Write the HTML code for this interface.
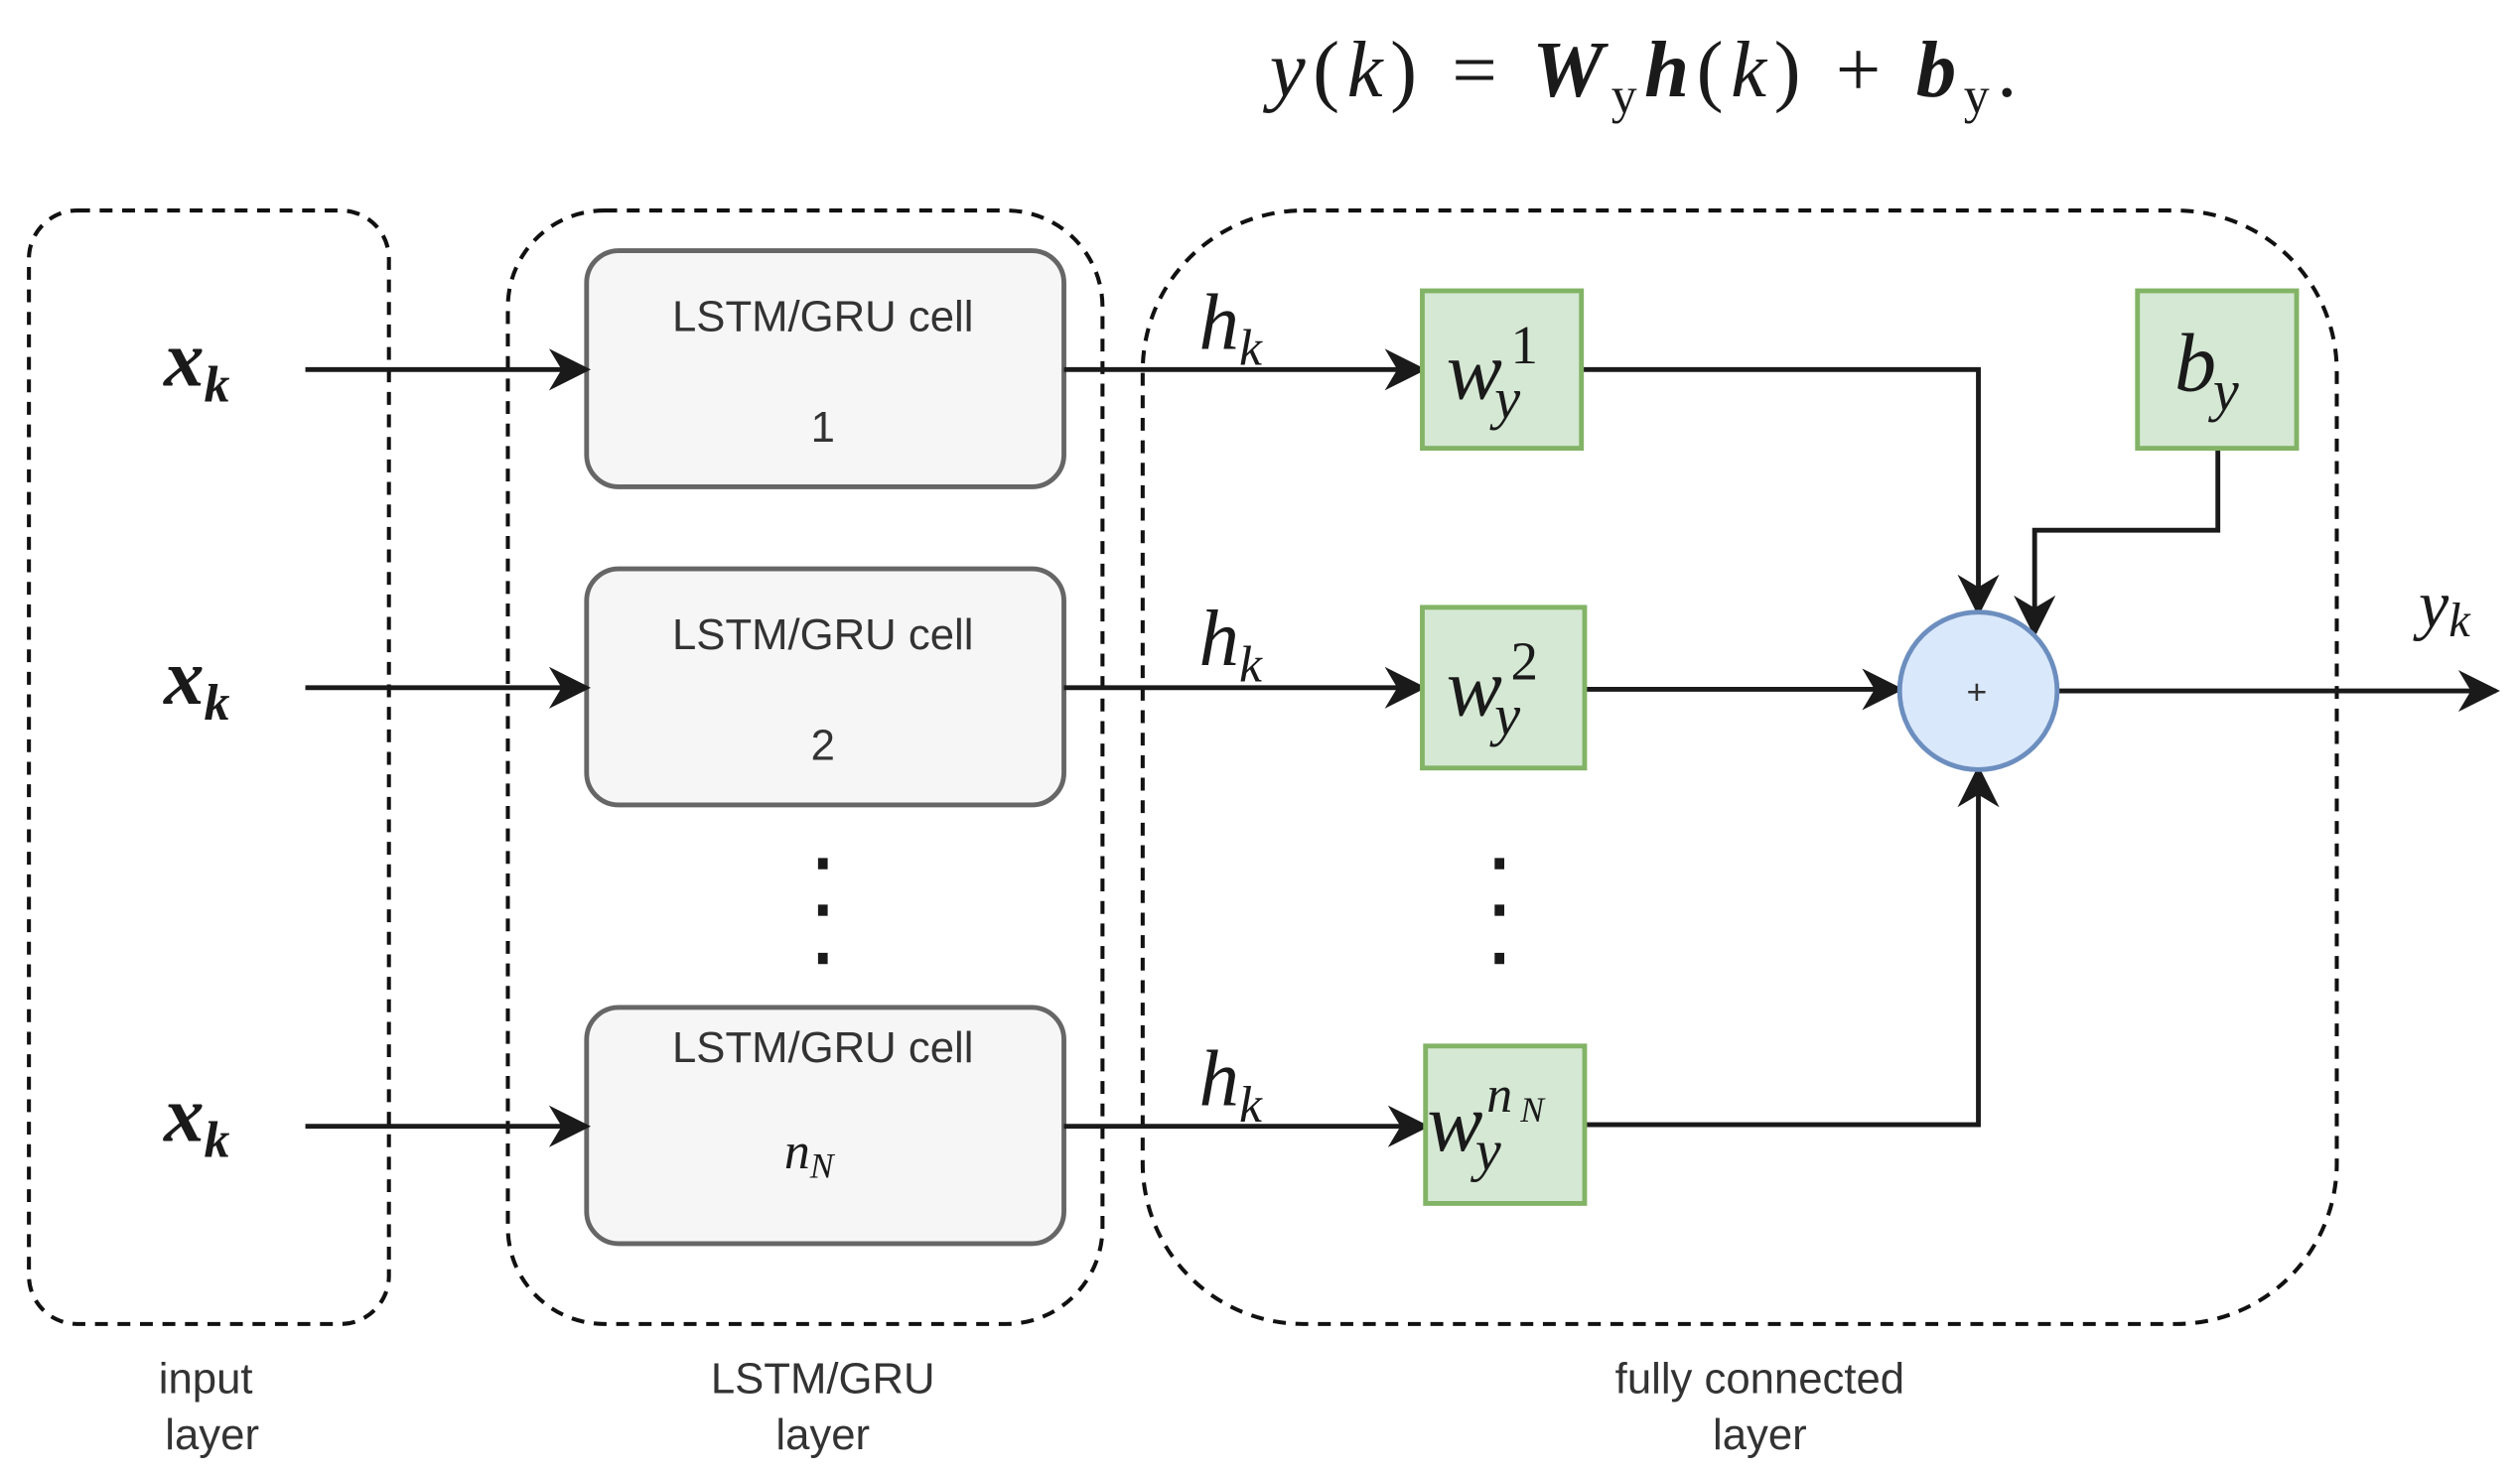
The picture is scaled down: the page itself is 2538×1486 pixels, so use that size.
<!DOCTYPE html>
<html><head><meta charset="utf-8"><style>
html,body{margin:0;padding:0;background:#fff;}
svg{display:block;}
.m{font-family:"Liberation Serif",serif;font-style:italic;fill:#1a1a1a;}
.s{font-family:"Liberation Sans",sans-serif;fill:#333;}
</style></head><body>
<svg width="2538" height="1486" viewBox="0 0 1568 918" preserveAspectRatio="none" xmlns="http://www.w3.org/2000/svg">
<defs>
<marker id="b" viewBox="0 0 10 10" refX="9" refY="5" markerWidth="26" markerHeight="26" markerUnits="userSpaceOnUse" orient="auto">
<path d="M0,0 L10,5 L0,10 L3,5 z" fill="#1a1a1a"/></marker>
</defs>
<!-- equation -->
<text x="790" y="60" class="m" font-size="50" style="font-style:normal" textLength="465" lengthAdjust="spacing"><tspan font-style="italic">y</tspan>(<tspan font-style="italic">k</tspan>) = <tspan font-weight="bold" font-style="italic">W</tspan><tspan font-size="32" dy="10">y</tspan><tspan dy="-10" font-weight="bold" font-style="italic">h</tspan>(<tspan font-style="italic">k</tspan>) + <tspan font-weight="bold" font-style="italic">b</tspan><tspan font-size="32" dy="10">y</tspan><tspan dy="-10">.</tspan></text>
<!-- dashed groups -->
<g fill="none" stroke="#111" stroke-width="2.5" stroke-dasharray="8,6">
<rect x="18" y="131" width="224" height="693" rx="30"/>
<rect x="316" y="131" width="370" height="693" rx="60"/>
<rect x="711" y="131" width="743" height="693" rx="100"/>
</g>
<!-- cells -->
<g fill="#f5f6f5" stroke="#666" stroke-width="3">
<rect x="365" y="156" width="297" height="147" rx="20"/>
<rect x="365" y="354" width="297" height="147" rx="20"/>
<rect x="365" y="627" width="297" height="147" rx="20"/>
</g>
<g class="s" font-size="27" text-anchor="middle">
<text x="512" y="206">LSTM/GRU cell</text><text x="512" y="275">1</text>
<text x="512" y="404">LSTM/GRU cell</text><text x="512" y="473">2</text>
<text x="512" y="661">LSTM/GRU cell</text>
<text x="128" y="867">input</text><text x="132" y="902">layer</text>
<text x="512" y="867">LSTM/GRU</text><text x="512" y="902">layer</text>
<text x="1095" y="867">fully connected</text><text x="1095" y="902">layer</text>
</g>
<text x="488" y="727" class="m" font-size="32">n<tspan font-size="22" dy="6">N</tspan></text>
<!-- x_k -->
<g class="m" font-size="50" font-weight="bold">
<text x="102" y="240">x<tspan font-size="32" dy="10">k</tspan></text>
<text x="102" y="438">x<tspan font-size="32" dy="10">k</tspan></text>
<text x="102" y="710">x<tspan font-size="32" dy="10">k</tspan></text>
</g>
<g class="m" font-size="50">
<text x="746" y="217">h<tspan font-size="32" dy="10">k</tspan></text>
<text x="746" y="414">h<tspan font-size="32" dy="10">k</tspan></text>
<text x="746" y="688">h<tspan font-size="32" dy="10">k</tspan></text>
<text x="1505" y="390" font-size="42">y<tspan font-size="30" dy="6">k</tspan></text>
</g>
<!-- arrows -->
<g stroke="#1a1a1a" stroke-width="3" fill="none" marker-end="url(#b)">
<line x1="190" y1="230" x2="365" y2="230"/>
<line x1="190" y1="428" x2="365" y2="428"/>
<line x1="190" y1="701" x2="365" y2="701"/>
<line x1="662" y1="230" x2="885" y2="230"/>
<line x1="662" y1="428" x2="885" y2="428"/>
<line x1="662" y1="701" x2="887" y2="701"/>
<polyline points="984,230 1231,230 1231,381"/>
<polyline points="1380,279 1380,330 1266,330 1266,394"/>
<line x1="986" y1="429" x2="1182" y2="429"/>
<polyline points="986,700 1231,700 1231,479"/>
<line x1="1280" y1="430" x2="1553" y2="430"/>
</g>
<!-- green boxes -->
<g fill="#d5e8d4" stroke="#82b366" stroke-width="3">
<rect x="885" y="181" width="99" height="98"/>
<rect x="885" y="378" width="101" height="100"/>
<rect x="887" y="651" width="99" height="98"/>
<rect x="1330" y="181" width="99" height="98"/>
</g>
<g class="m" font-size="52">
<text x="900" y="248">w</text><text x="940" y="226" font-size="34" style="font-style:normal">1</text><text x="930" y="260" font-size="36">y</text>
<text x="900" y="445">w</text><text x="940" y="423" font-size="34" style="font-style:normal">2</text><text x="930" y="457" font-size="36">y</text>
<text x="888" y="716">w</text><text x="925" y="692" font-size="32">n</text><text x="946" y="698" font-size="22">N</text><text x="918" y="728" font-size="36">y</text>
<text x="1353" y="243">b</text><text x="1377" y="255" font-size="36">y</text>
</g>
<circle cx="1231" cy="430" r="49" fill="#dae8fc" stroke="#6c8ebf" stroke-width="3"/>
<text x="1230" y="438" class="s" font-size="22" text-anchor="middle" fill="#111">+</text>
<!-- dots -->
<g fill="#1a1a1a">
<rect x="509" y="534" width="6" height="7"/><rect x="509" y="563" width="6" height="7"/><rect x="509" y="593" width="6" height="7"/>
<rect x="930" y="534" width="6" height="7"/><rect x="930" y="563" width="6" height="7"/><rect x="930" y="593" width="6" height="7"/>
</g>
</svg>
</body></html>
